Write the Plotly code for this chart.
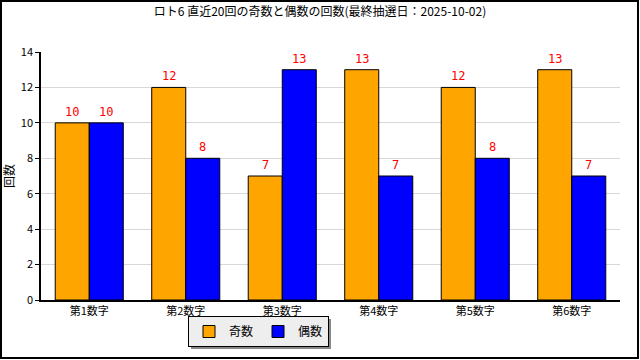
import plotly.graph_objects as go

categories = ["第1数字", "第2数字", "第3数字", "第4数字", "第5数字", "第6数字"]
odd_counts = [10, 12, 7, 13, 12, 13]
even_counts = [10, 8, 13, 7, 8, 7]
series_names = ["奇数", "偶数"]
title_text = "ロト6 直近20回の奇数と偶数の回数(最終抽選日：2025-10-02)"
y_ticks = [0, 2, 4, 6, 8, 10, 12, 14]

W, H = 640, 360
ML, MR, MT, MB = 41, 20, 52, 60
PW, PH = W - ML - MR, H - MT - MB

def px_x(p):
    return (p - ML) / PW

def px_y(p):
    return (H - MB - p) / PH

font = "Noto Sans CJK JP"

fig = go.Figure()
fig.add_trace(go.Bar(x=categories, y=odd_counts, name=series_names[0],
                     marker=dict(color="#FFA500", line=dict(color="black", width=1))))
fig.add_trace(go.Bar(x=categories, y=even_counts, name=series_names[1],
                     marker=dict(color="#0000FF", line=dict(color="black", width=1))))

annotations = []
for c, v in zip(categories, odd_counts):
    annotations.append(dict(x=c, y=v, xref="x", yref="y", text=str(v), showarrow=False,
                            xshift=-17, yshift=11, font=dict(color="red", size=12, family="DejaVu Sans Mono")))
for c, v in zip(categories, even_counts):
    annotations.append(dict(x=c, y=v, xref="x", yref="y", text=str(v), showarrow=False,
                            xshift=17, yshift=11, font=dict(color="red", size=12, family="DejaVu Sans Mono")))

shapes = [
    # outer frame
    dict(type="rect", xref="paper", yref="paper",
         x0=px_x(1), x1=px_x(638), y0=px_y(358), y1=px_y(1),
         line=dict(color="black", width=2), fillcolor="rgba(0,0,0,0)", layer="above"),
    # legend shadow
    dict(type="rect", xref="paper", yref="paper",
         x0=px_x(191), x1=px_x(331), y0=px_y(349), y1=px_y(319),
         line=dict(width=0), fillcolor="#888888", layer="below"),
]

fig.update_layout(
    width=W, height=H,
    margin=dict(l=ML, r=MR, t=MT, b=MB, autoexpand=False),
    paper_bgcolor="white", plot_bgcolor="white",
    font=dict(family=font, size=11, color="black"),
    title=dict(text=title_text, x=0.5, xanchor="center", y=1 - 12 / H, yanchor="middle",
               font=dict(size=12, family=font)),
    barmode="group", bargap=0.295, bargroupgap=0,
    xaxis=dict(showline=True, linecolor="black", linewidth=1.5, ticks="", showgrid=False,
               tickfont=dict(size=11), mirror=False),
    yaxis=dict(range=[0, 14], tickvals=y_ticks, showline=True, linecolor="black", linewidth=1.5,
               ticks="outside", ticklen=4, tickcolor="black", gridcolor="#d8d8d8", gridwidth=1,
               tickfont=dict(size=11), zeroline=False,
               title=dict(text="回数", font=dict(size=12), standoff=4)),
    legend=dict(orientation="h", x=px_x(188), y=px_y(316), xanchor="left", yanchor="top",
                bgcolor="#eeeeee", bordercolor="black", borderwidth=1,
                font=dict(size=12), itemwidth=30, traceorder="normal"),
    annotations=annotations,
    shapes=shapes,
)

fig.write_html("out.html")
